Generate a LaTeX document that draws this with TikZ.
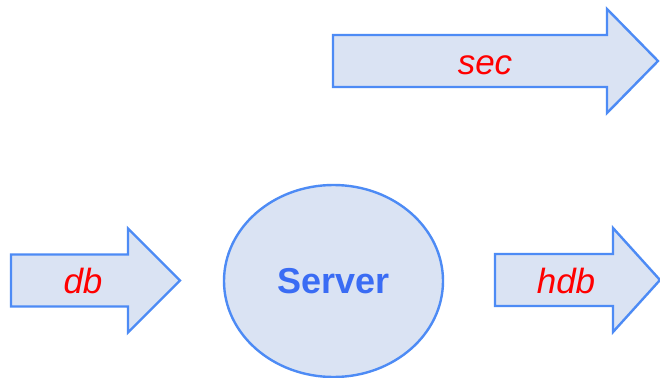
\documentclass[tikz,border=0pt]{standalone}
\usepackage{fontspec}
\setmainfont{Liberation Sans}
\usepackage{xcolor}
\usetikzlibrary{shapes.geometric}

\definecolor{flowfill}{HTML}{DAE3F3}
\definecolor{flowline}{HTML}{4D8BF5}
\definecolor{servertext}{HTML}{3A6CF4}

\tikzset{
	flow/.style={draw=flowline, fill=flowfill, line width=2.4pt, line join=miter},
	flowlabel/.style={text=red, anchor=base, font=\fontsize{35}{42}\selectfont\itshape},
}

% block arrow: x start, y centre, x of head, x of tip
\newcommand{\flowarrow}[4]{%
	\draw[flow] (#1,#2-26) -- (#3,#2-26) -- (#3,#2-52) -- (#4,#2)
		-- (#3,#2+52) -- (#3,#2+26) -- (#1,#2+26) -- cycle;}

\begin{document}
\begin{tikzpicture}[x=1pt,y=-1pt]
	\useasboundingbox (0,0) rectangle (660,377);
	\fill[white] (0,0) rectangle (660,377);
	\flowarrow{333}{61}{607}{658}
	\flowarrow{11}{280.5}{128}{180}
	\flowarrow{495}{280}{613}{660}
	\node[flow, ellipse, minimum width=219pt, minimum height=192pt, inner sep=0pt,
		text=servertext, font=\fontsize{36}{43}\selectfont\bfseries] at (333.5,281) (server) {Server};
	\node[flowlabel] at (485,75) (sec) {sec};
	\node[flowlabel] at (83,293) (db) {db};
	\node[flowlabel] at (566,293) (hdb) {hdb};
\end{tikzpicture}
\end{document}
